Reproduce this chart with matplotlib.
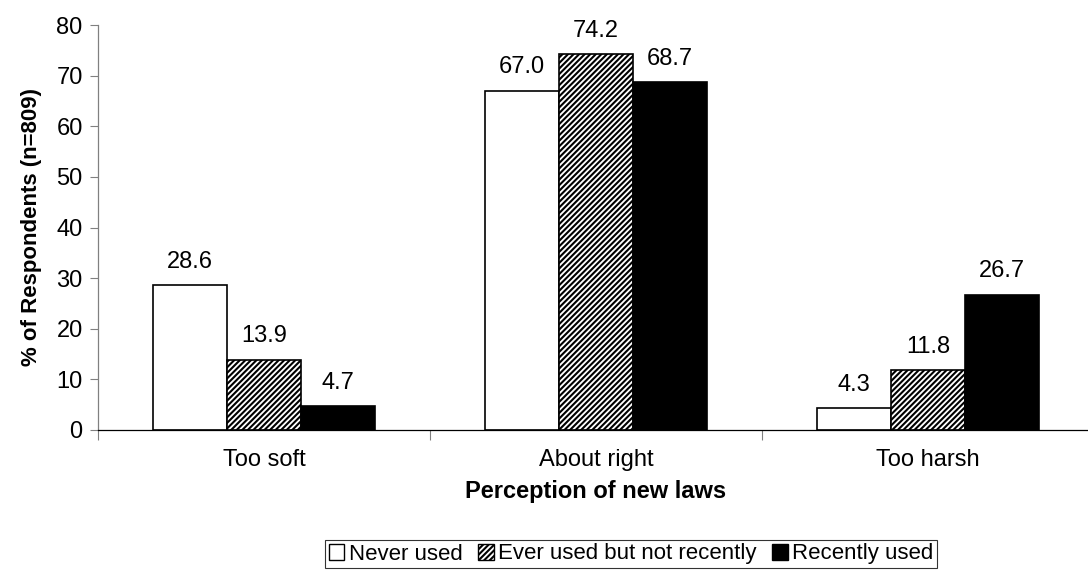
import matplotlib
matplotlib.use("Agg")
import matplotlib.pyplot as plt
import numpy as np
from matplotlib.patches import Patch

plt.rcParams['font.family'] = ['Liberation Sans', 'DejaVu Sans']
plt.rcParams['hatch.linewidth'] = 1.5

categories = ["Too soft", "About right", "Too harsh"]
series_names = ["Never used", "Ever used but not recently", "Recently used"]
never_used = [28.6, 67.0, 4.3]
ever_used = [13.9, 74.2, 11.8]
recently_used = [4.7, 68.7, 26.7]
y_ticks = [0, 10, 20, 30, 40, 50, 60, 70, 80]

FS = 17
W, H = 1088, 585
fig = plt.figure(figsize=(W / 100, H / 100), dpi=100)
ax = fig.add_axes([98 / W, (H - 430) / H, (1094 - 98) / W, (430 - 25) / H])

x = np.arange(len(categories))
bw = 0.223
styles = [
    dict(facecolor="white", edgecolor="black", hatch=None),
    dict(facecolor="white", edgecolor="black", hatch="//////"),
    dict(facecolor="black", edgecolor="black", hatch=None),
]
data = [never_used, ever_used, recently_used]
for i, (vals, st) in enumerate(zip(data, styles)):
    pos = x + (i - 1) * bw
    ax.bar(pos, vals, bw, linewidth=1.2, **st)
    for p, v in zip(pos, vals):
        ax.annotate(f"{v:.1f}", (p, v), xytext=(0, 9), textcoords="offset points",
                    ha="center", va="bottom", fontsize=FS)

ax.set_xlim(-0.5, 2.5)
ax.set_ylim(0, 80)
ax.set_yticks(y_ticks)
ax.tick_params(axis="y", labelsize=FS, length=6, width=0.8, color="#808080", pad=5)
ax.set_xticks([-0.5, 0.5, 1.5, 2.5])
ax.set_xticklabels([])
ax.tick_params(axis="x", which="major", length=7, width=0.8, color="#808080")
ax.set_xticks(x, minor=True)
ax.set_xticklabels(categories, minor=True)
ax.tick_params(axis="x", which="minor", length=0, labelsize=FS, pad=14)

for s in ["top", "right"]:
    ax.spines[s].set_visible(False)
ax.spines["left"].set_color("#808080")
ax.spines["left"].set_linewidth(0.9)
ax.spines["bottom"].set_color("black")
ax.spines["bottom"].set_linewidth(0.9)

ax.set_xlabel("Perception of new laws", fontsize=FS, fontweight="bold", labelpad=6)
ax.set_ylabel("% of Respondents (n=809)", fontsize=16, fontweight="bold", labelpad=10)

handles = [Patch(facecolor=st["facecolor"], edgecolor="black", hatch=st["hatch"], linewidth=1.0)
           for st in styles]
leg = fig.legend(handles, series_names, loc="center", bbox_to_anchor=(631 / W, 1 - 554 / H),
                 ncol=3, fontsize=16, frameon=True, fancybox=False, edgecolor="black",
                 handlelength=0.7, handleheight=0.7, handletextpad=0.2, columnspacing=0.7,
                 borderpad=0.15, borderaxespad=0)
leg.get_frame().set_linewidth(0.8)

fig.savefig("out.png", dpi=100)
